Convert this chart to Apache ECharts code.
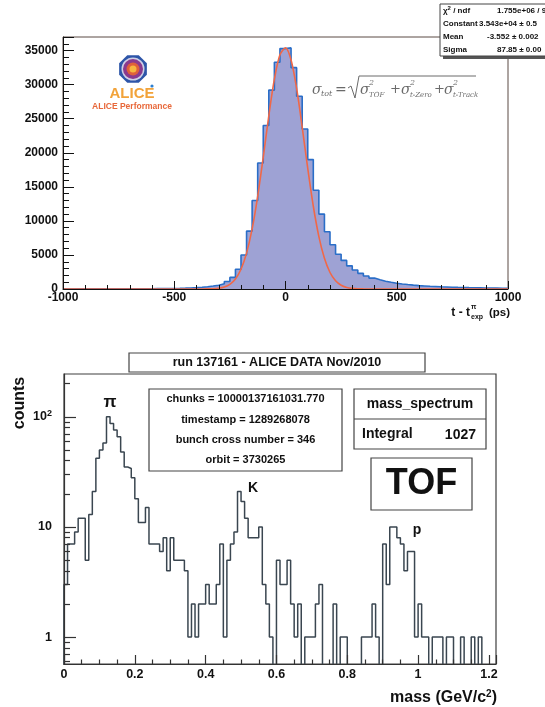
<!DOCTYPE html>
<html><head><meta charset="utf-8">
<script src="https://cdn.jsdelivr.net/npm/echarts@6/dist/echarts.min.js"></script>
<style>html,body{margin:0;padding:0;background:#fff}#c{width:545px;height:707px}</style>
</head><body><div id="c"></div>
<script>
// ---------- top panel: t - t_exp (ps) histogram ----------
const tofStart = -1000;
const tofBinWidth = 25;
const tofCounts = [
  10,10,12,12,14,15,16,18,20,22, 25,28,30,34,38,42,48,55,65,80,
  100,125,155,200,250,330,430,560,780,1100,
  1700,2900,5000,8500,13000,18500,24000,29200,33300,35300,
  35400,32500,28300,23500,19000,14500,11000,8400,6500,5100,
  4200,3400,2800,2300,1900,1600,1350,1150,980,850,
  740,650,570,500,450,400,360,320,290,260,
  235,215,195,180,165,150,140,130,120,110];
const fitX = [-1000,-400,-375,-350,-325,-300,-275,-250,-225,-200,-175,-150,-125,-100,-75,-50,-25,0,
  25,50,75,100,125,150,175,200,225,250,275,300,325,350,375,400,1000];
const fitY = [0,1,5,15,44,119,298,691,1476,2903,5267,8816,13610,19370,25440,30800,34380,35400,
  33620,29440,23770,17700,12150,7695,4500,2422,1205,551,233,91,33,11,4,1,0];
const tofXTicks = [-1000,-500,0,500,1000];
const tofYTicks = [0,5000,10000,15000,20000,25000,30000,35000];
const statNames = ['χ{s|2} / ndf','Constant','Mean','Sigma'];
const statValues = ['1.755e+06 / 9','3.543e+04 ± 0.5','-3.552 ± 0.002','87.85 ± 0.00'];

// ---------- bottom panel: mass spectrum ----------
const massStart = 0;
const massBinWidth = 0.01;
const massCounts = [
  3,7,7,9,12,12,5,13,21,42, 50,58,100,87,76,66,48,35,34,28,
  18,11,11,15,7,7,7,6,8,4, 8,5,5,5,4,1,2,1,2,2,
  3,2,2,3,7,1,5,7,9,21, 17,12,8,8,8,10,3,2,1,0,
  5,3,3,5,2,1,2,0,1,1, 1,2,3,0,0,0,2,0,1,1,
  0,0,0,0,1,1,1,2,1,0, 7,3,10,10,8,7,4,6,6,1,
  2,1,1,0,1,1,1,0,1,1, 0,0,1,0,0,1,0,1,0,0,
  0,0];
const massXTicks = [0,0.2,0.4,0.6,0.8,1,1.2];
const countMajorTicks = [1,10,100];
const countMinorTicks = [0.6,0.7,0.8,0.9,2,3,4,5,6,7,8,9,20,30,40,50,60,70,80,90,200];
const infoLines = ['chunks = 10000137161031.770','timestamp = 1289268078','bunch cross number = 346','orbit = 3730265'];

// ---------- build series data ----------
const tofData = tofCounts.map((v,i)=>[tofStart + i*tofBinWidth, v]);
tofData.push([tofStart + tofCounts.length*tofBinWidth, tofCounts[tofCounts.length-1]]);
const fitData = fitX.map((x,i)=>[x, fitY[i]]);
const FLOOR = 0.1; // empty bins drop below the log axis minimum
const massData = [[massStart, FLOOR]];
massCounts.forEach((v,i)=>massData.push([massStart + i*massBinWidth, v>0?v:FLOOR]));
massData.push([massStart + massCounts.length*massBinWidth, FLOOR]);

const F = '"Liberation Sans", Arial, Helvetica, sans-serif';
const SERIF = '"DejaVu Serif", "Liberation Serif", serif';
const AX = '#111';

function txt(x,y,text,size,opts){
  opts = opts||{};
  return {type:'text', x:x, y:y, rotation:opts.rot||0, z:100,
    style:{text:text, fontFamily:opts.family||F, fontSize:size, fontWeight:opts.weight||'bold',
      fontStyle:opts.style||'normal', fill:opts.color||AX, align:opts.align||'left',
      verticalAlign:'middle', rich:opts.rich}};
}
function rect(x,y,w,h,opts){
  opts=opts||{};
  return {type:'rect', z:opts.z||90, shape:{x:x,y:y,width:w,height:h},
    style:{fill:opts.fill||'#fff', stroke:opts.stroke||'#444', lineWidth:opts.lw==null?1.2:opts.lw}};
}
function octagon(cx,cy,r){
  const pts=[];
  for(let k=0;k<8;k++){const a=Math.PI/8+k*Math.PI/4;pts.push([cx+r*Math.cos(a),cy+r*Math.sin(a)]);}
  return pts;
}

const graphics = [];
// stats box (top right)
graphics.push(rect(443,7,120,52,{fill:'#555',stroke:'#555',lw:0,z:88}));
graphics.push(rect(440,4,120,52,{fill:'#fff',stroke:'#444',lw:1,z:89}));
const rowsY=[11,24,37,50];
const valX=[497,479,487,497];
statNames.forEach((n,i)=>{
  graphics.push(txt(443,rowsY[i],n,8,{rich:{s:{fontSize:6,fontWeight:'bold',verticalAlign:'top',padding:[0,0,5,0]}}}));
  graphics.push(txt(valX[i],rowsY[i],statValues[i],8));
});
// ALICE logo
graphics.push({type:'polygon',z:95,shape:{points:octagon(133,69,15)},style:{fill:'#2d55a8'}});
graphics.push({type:'circle',z:96,shape:{cx:133,cy:69,r:11.5},style:{fill:'#cfd0e6'}});
graphics.push({type:'circle',z:97,shape:{cx:133,cy:69,r:10},style:{fill:'#8a3a8e'}});
graphics.push({type:'circle',z:98,shape:{cx:133,cy:69,r:6.5},style:{fill:'#e0603a'}});
graphics.push({type:'circle',z:99,shape:{cx:133,cy:69,r:3.5},style:{fill:'#f7b540'}});
graphics.push(txt(132,94,'ALICE',15,{align:'center',color:'#f2a33a'}));
graphics.push({type:'circle',z:99,shape:{cx:152,cy:86,r:1.6},style:{fill:'#2d7fd0'}});
graphics.push(txt(132,107,'ALICE Performance',8.5,{align:'center',color:'#e8683a'}));
// formula
const fc='#6a6a6a';
const it = {family:SERIF,weight:'normal',style:'italic',color:fc};
graphics.push(txt(312,90,'σ',14,it));
graphics.push(txt(321,94,'tot',8,it));
graphics.push(txt(335,90,'=',14,{family:SERIF,weight:'normal',color:fc}));
graphics.push({type:'polyline',z:100,shape:{points:[[348,88],[351,86],[355,98],[359,76],[476,76]]},style:{stroke:fc,lineWidth:1,fill:null}});
const terms=[[360,'TOF',30],[401,'t-Zero',33],[444,'t-Track',0]];
terms.forEach((t)=>{
  graphics.push(txt(t[0],90,'σ',14,it));
  graphics.push(txt(t[0]+9,83,'2',8,it));
  graphics.push(txt(t[0]+9,95,t[1],7,it));
  if(t[2]) graphics.push(txt(t[0]+t[2],90,'+',13,{family:SERIF,weight:'normal',color:fc}));
});
// top x title
graphics.push(txt(470,313,'t - t',12,{align:'right'}));
graphics.push(txt(471,307,'π',7));
graphics.push(txt(471,317,'exp',7));
graphics.push(txt(510,313,'(ps)',11.5,{align:'right'}));

// bottom: title box
graphics.push(rect(129,353,296,19));
graphics.push(txt(277,362.5,'run 137161 - ALICE DATA Nov/2010',12.5,{align:'center'}));
// info box
graphics.push(rect(149,389,193,82));
infoLines.forEach((l,i)=>graphics.push(txt(245.5,[399,420,440,460][i],l,11,{align:'center'})));
// mass_spectrum box
graphics.push(rect(354,389,132,60));
graphics.push({type:'line',z:95,shape:{x1:354,y1:419,x2:486,y2:419},style:{stroke:'#444',lineWidth:1.2}});
graphics.push(txt(420,404,'mass_spectrum',14,{align:'center'}));
graphics.push(txt(362,434,'Integral',14));
graphics.push(txt(476,435,'1027',14,{align:'right'}));
// TOF box
graphics.push(rect(371,458,101,52));
graphics.push(txt(421.5,484,'TOF',36,{align:'center'}));
// peak labels
graphics.push(txt(110,402,'π',17,{align:'center'}));
graphics.push(txt(253,488,'K',14,{align:'center'}));
graphics.push(txt(417,530,'p',14,{align:'center'}));
// axis titles
graphics.push(txt(20,403,'counts',16,{align:'center',rot:Math.PI/2}));
graphics.push(txt(497,698,'mass (GeV/c{s|2})',16,{align:'right',rich:{s:{fontSize:10,fontWeight:'bold',verticalAlign:'top',padding:[0,0,8,0]}}}));

const tickLine = {color:AX,width:1};
const plain = v => String(v);
const option = {
  animation:false,
  backgroundColor:'#fff',
  grid:[
    {left:63, top:37, width:445, height:252, show:true, borderColor:'#5a4a44', borderWidth:1, backgroundColor:'transparent', outerBoundsMode:'none'},
    {left:64, top:374, width:432, height:290, show:true, borderColor:'#3e3e3e', borderWidth:1.2, backgroundColor:'transparent', outerBoundsMode:'none'}
  ],
  xAxis:[
    {gridIndex:0, type:'value', min:-1000, max:1000, interval:500, z:5,
     axisLine:{show:true,onZero:false,lineStyle:{color:AX,width:1}},
     axisTick:{show:true,inside:true,length:8,lineStyle:tickLine},
     minorTick:{show:true,splitNumber:5,length:4,lineStyle:tickLine},
     splitLine:{show:false}, minorSplitLine:{show:false},
     axisLabel:{customValues:tofXTicks, formatter:plain, fontFamily:F,fontWeight:'bold',fontSize:12,color:AX,margin:3}},
    {gridIndex:1, type:'value', min:0, max:1.22, interval:0.2, z:5,
     axisLine:{show:true,onZero:false,lineStyle:{color:'#333',width:1.2}},
     axisTick:{show:true,inside:true,length:9,lineStyle:{color:'#333',width:1.2}},
     minorTick:{show:true,splitNumber:4,length:4.5,lineStyle:{color:'#333',width:1.2}},
     splitLine:{show:false},
     axisLabel:{customValues:massXTicks, formatter:plain, fontFamily:F,fontWeight:'bold',fontSize:12.5,color:AX,margin:4}}
  ],
  yAxis:[
    {gridIndex:0, type:'value', min:0, max:37000, interval:5000, z:5,
     axisLine:{show:true,onZero:false,lineStyle:{color:AX,width:1}},
     axisTick:{show:true,inside:true,length:11,lineStyle:tickLine},
     minorTick:{show:true,splitNumber:5,length:6,lineStyle:tickLine},
     splitLine:{show:false},
     axisLabel:{customValues:tofYTicks, formatter:plain, fontFamily:F,fontWeight:'bold',fontSize:12,color:AX,margin:5}},
    {gridIndex:1, type:'log', logBase:10, min:0.57, max:245, position:'left', z:5,
     axisLine:{show:true,onZero:false,lineStyle:{color:'#333',width:1.2}},
     axisTick:{show:true,inside:true,length:12,customValues:countMajorTicks,lineStyle:{color:'#333',width:1.2}},
     minorTick:{show:false}, splitLine:{show:false},
     axisLabel:{customValues:countMajorTicks, fontFamily:F,fontWeight:'bold',fontSize:12.5,color:AX,margin:12,
       formatter:function(v){return v>=100?'10{s|2}':String(v);},
       rich:{s:{fontSize:9,fontWeight:'bold',fontFamily:F,verticalAlign:'top',padding:[0,0,6,0]}}}},
    {gridIndex:1, type:'log', logBase:10, min:0.57, max:245, position:'left', offset:0, z:5,
     axisLine:{show:false},
     axisTick:{show:true,inside:true,length:6,customValues:countMinorTicks,lineStyle:{color:'#333',width:1.2}},
     minorTick:{show:false}, splitLine:{show:false},
     axisLabel:{show:false}}
  ],
  series:[
    {type:'line', xAxisIndex:0, yAxisIndex:0, data:tofData, step:'end', symbol:'none', z:2,
     lineStyle:{color:'#2a6ec8',width:1.6}, areaStyle:{color:'#9ea2d4',opacity:1}},
    {type:'line', xAxisIndex:0, yAxisIndex:0, data:fitData, smooth:0.3, symbol:'none', z:3,
     lineStyle:{color:'#f06848',width:1.6}},
    {type:'line', xAxisIndex:1, yAxisIndex:1, data:massData, step:'end', symbol:'none', z:3, clip:true,
     lineStyle:{color:'#3a4650',width:1.5}}
  ],
  graphic:graphics
};
const chart = echarts.init(document.getElementById('c'), null, {renderer:'canvas', width:545, height:707});
chart.setOption(option);
</script>
</body></html>
